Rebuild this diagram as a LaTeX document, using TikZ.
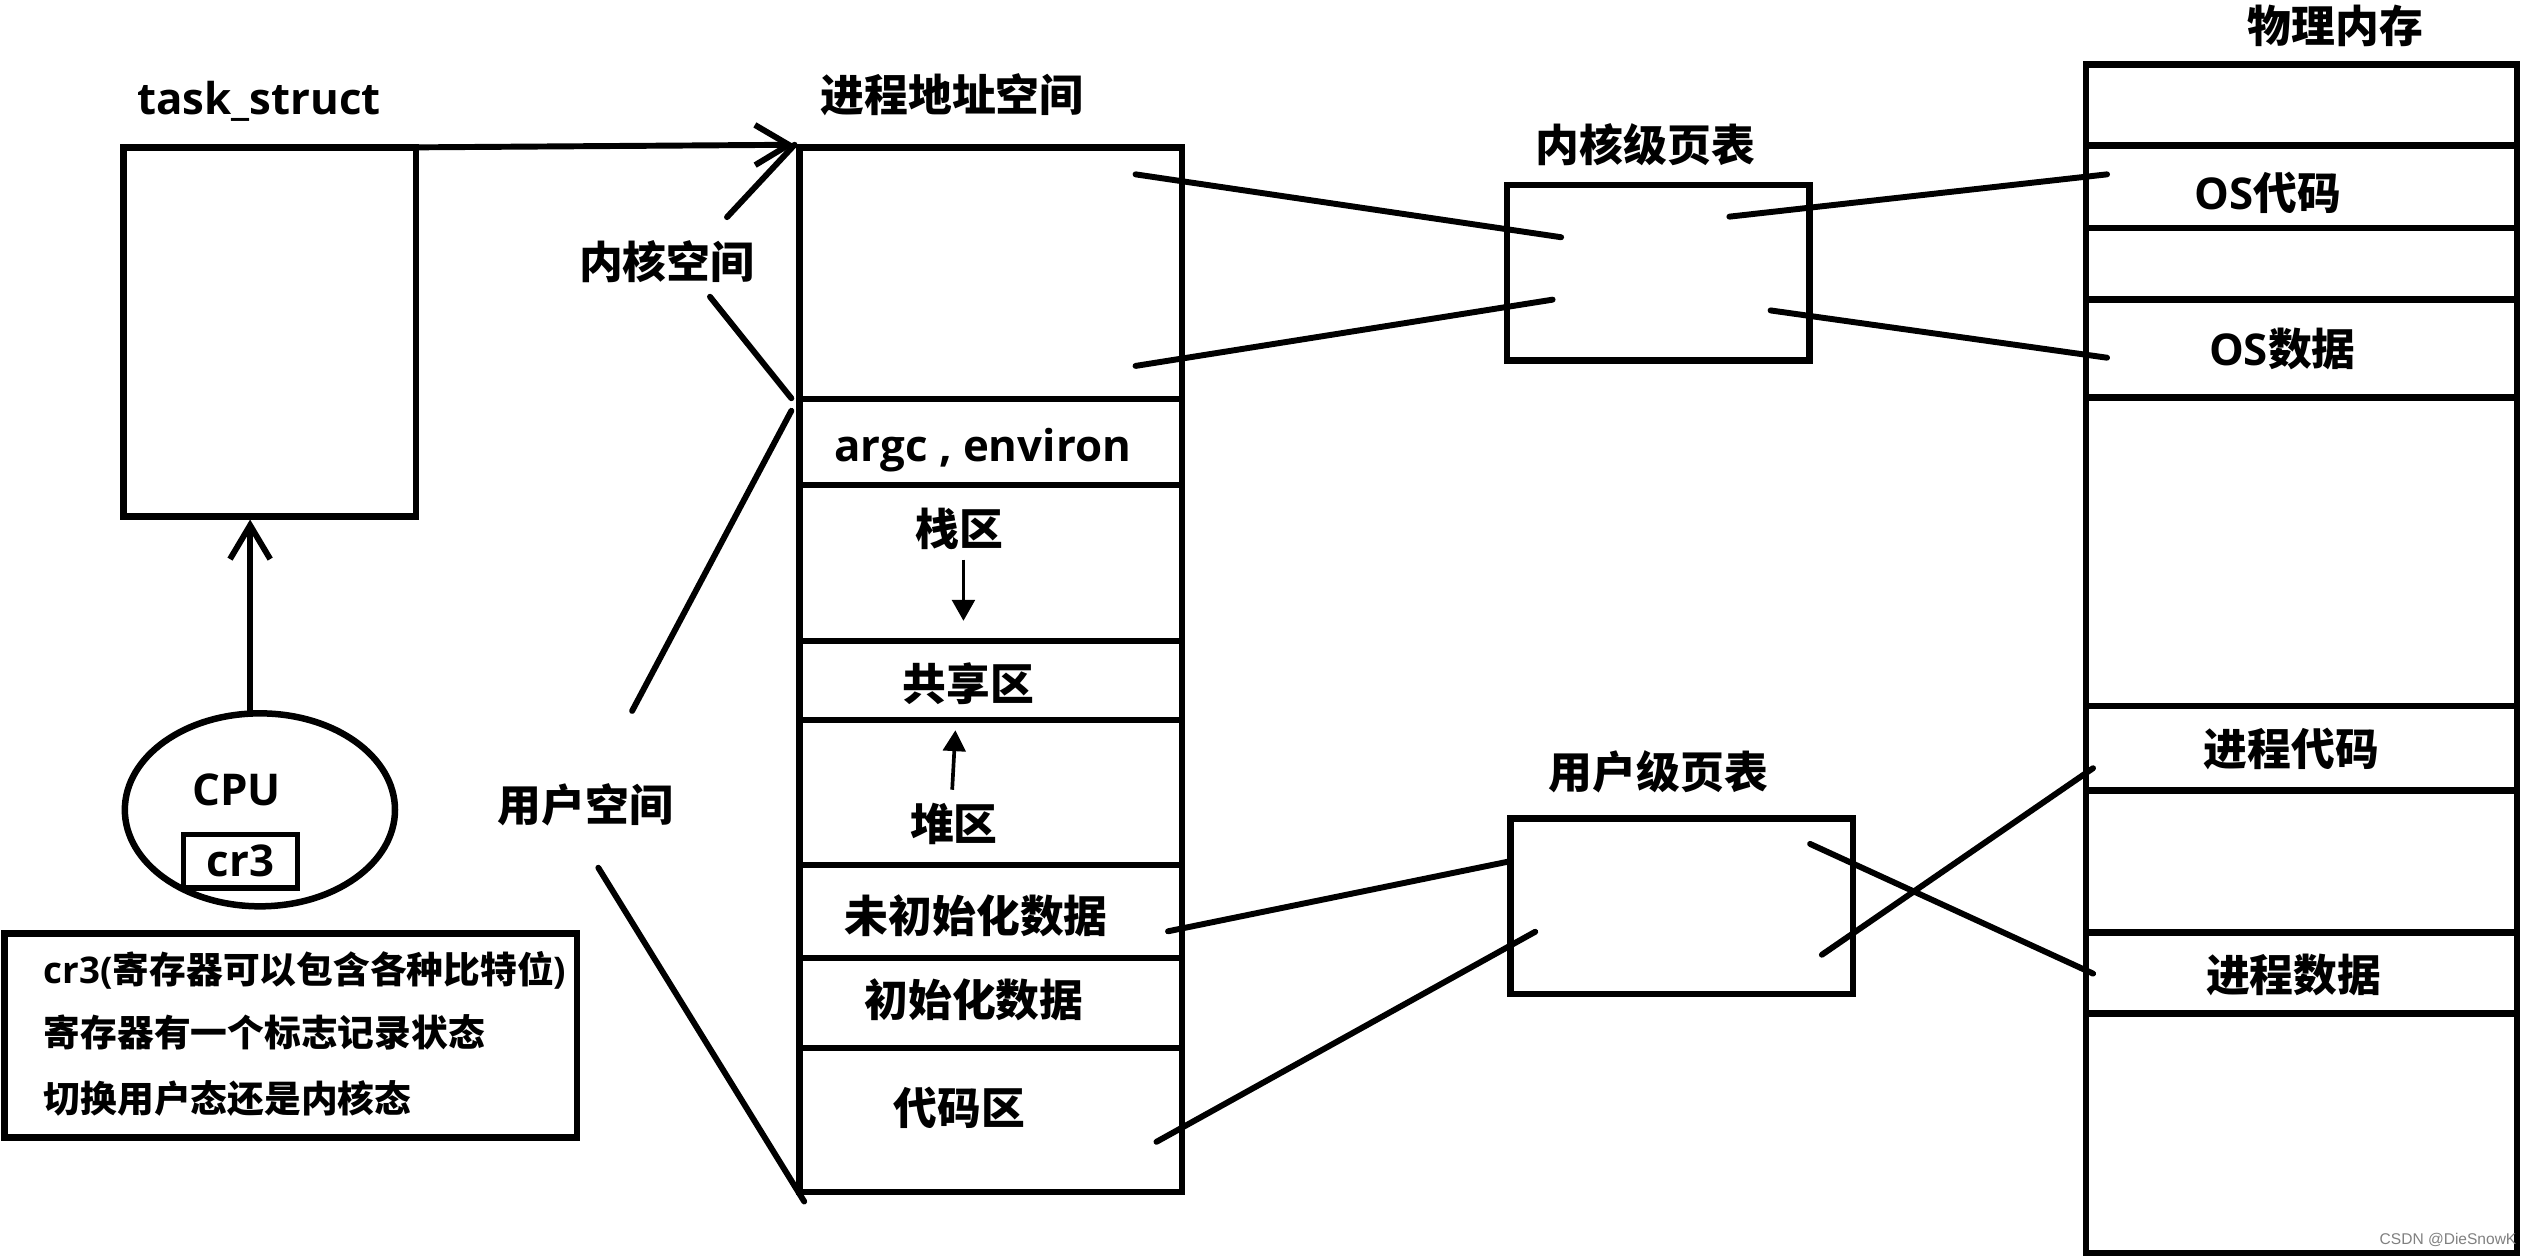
\documentclass[tikz,border=0pt]{standalone}
\usepackage{fontspec}
\setmainfont{Noto Sans CJK SC}
\newfontfamily\lat{Open Sans}
\newfontfamily\wmfont{Liberation Sans}
\usetikzlibrary{arrows.meta,shapes.geometric}
\begin{document}
\begin{tikzpicture}[x=0.02cm, y=-0.02cm,
  box/.style={draw, line width=2.3pt, inner sep=0pt, outer sep=0pt},
  link/.style={line width=2.1pt, line cap=round},
  lbl/.style={font=\bfseries\fontsize{15.5}{18}\selectfont, inner sep=0pt},
  small/.style={font=\bfseries\fontsize{13}{16}\selectfont, inner sep=0pt, anchor=west},
  barb/.style={-{Straight Barb[length=0.42cm, width=0.5cm]}},
  tri/.style={line width=1.3pt, -{Triangle[length=0.26cm, width=0.28cm]}},
  pas/.style={box, minimum width=4.76cm},
  mem/.style={box, minimum width=5.36cm}
]
\useasboundingbox (0,0) rectangle (1568,781);

% task_struct
\node[lbl] (tslbl) at (161,63) {\lat\bfseries task\_struct};
\node[box, minimum width=3.64cm, minimum height=4.588cm] (ts) at (167.8,206.3) {};

% CPU
\node[box, ellipse, minimum width=3.36cm, minimum height=2.4cm] (cpu) at (161.6,503.5) {};
\node[lbl] (cpulbl) at (147,491) {\lat\bfseries CPU};
\node[box, lbl, line width=1.9pt, minimum width=1.42cm, minimum height=0.66cm] (cr3) at (149.5,535.5) {\lat\bfseries cr3};
\coordinate (cpuTop) at (155.5,444);
\coordinate (tsArr) at (155.5,323);
\draw[link, barb, line cap=butt] (cpuTop) -- (tsArr);

% legend
\node[box, minimum width=7.124cm, minimum height=2.538cm] (legend) at (180.8,643.85) {};
\node[small] (lg1) at (27,603) {{\lat\bfseries cr3(}寄存器可以包含各种比特位{\lat\bfseries )}};
\node[small] (lg2) at (27,642) {寄存器有一个标志记录状态};
\node[small] (lg3) at (27,683) {切换用户态还是内核态};

% process address space
\node[lbl] (pastitle) at (592,59) {进程地址空间};
\node[pas, minimum height=3.128cm] (pk) at (616,169.8) {};
\node[pas, minimum height=1.07cm] (pargc) at (616,274.75) {};
\node[pas, minimum height=1.94cm] (pstack) at (616,350) {};
\node[pas, minimum height=0.984cm] (pshare) at (616,423.1) {};
\node[pas, minimum height=1.802cm] (pheap) at (616,492.75) {};
\node[pas, minimum height=1.156cm] (pbss) at (616,566.7) {};
\node[pas, minimum height=1.118cm] (pdata) at (616,623.55) {};
\node[pas, minimum height=1.79cm] (pcode) at (616,696.25) {};
\node[lbl] (largc) at (611,280) {\lat\bfseries argc , environ};
\node[lbl] (lstack) at (596.5,329) {栈区};
\node[lbl] (lshare) at (602,425) {共享区};
\node[lbl] (lheap) at (593,512) {堆区};
\node[lbl] (lbss) at (607,569.5) {未初始化数据};
\node[lbl] (ldata) at (605.5,621.5) {初始化数据};
\node[lbl] (lcode) at (596.6,689) {代码区};
\coordinate (sa1) at (599,348); \coordinate (sa2) at (599,386);
\draw[tri] (sa1) -- (sa2);
\coordinate (ha1) at (592,491); \coordinate (ha2) at (594,454);
\draw[tri] (ha1) -- (ha2);

% task_struct -> address space
\coordinate (pasTip) at (494,90);
\draw[link, barb, line cap=butt] (ts.north east) -- (pasTip);

% kernel / user space labels
\node[lbl] (kslbl) at (414.5,162.5) {内核空间};
\node[lbl] (uslbl) at (364,500.5) {用户空间};
\coordinate (ks1) at (452,135);
\coordinate (ks2) at (441.4,184.5); \coordinate (ksB) at (492,247.6);
\coordinate (us1) at (393,442); \coordinate (usT) at (492,255.4);
\coordinate (us2) at (372,539.5); \coordinate (usB) at (500,747);
\draw[link] (ks1) -- (pasTip);
\draw[link] (ks2) -- (ksB);
\draw[link] (us1) -- (usT);
\draw[link] (us2) -- (usB);

% kernel page table
\node[lbl] (kpttitle) at (1023,90) {内核级页表};
\node[box, minimum width=3.76cm, minimum height=2.18cm] (kpt) at (1031,169.5) {};
% user page table
\node[lbl] (upttitle) at (1031,480) {用户级页表};
\node[box, minimum width=4.26cm, minimum height=2.18cm] (upt) at (1045.5,563.5) {};

% physical memory
\node[lbl] (memtitle) at (1452,16) {物理内存};
\node[mem, minimum height=1.006cm] (m1) at (1431,65.15) {};
\node[mem, minimum height=1.032cm] (m2) at (1431,116.1) {};
\node[mem, minimum height=0.888cm] (m3) at (1431,164.1) {};
\node[mem, minimum height=1.216cm] (m4) at (1431,216.7) {};
\node[mem, minimum height=3.836cm] (m5) at (1431,343) {};
\node[mem, minimum height=1.05cm] (m6) at (1431,465.15) {};
\node[mem, minimum height=1.768cm] (m7) at (1431,535.6) {};
\node[mem, minimum height=1.004cm] (m8) at (1431,604.9) {};
\node[mem, minimum height=2.98cm] (m9) at (1431,704.5) {};
\node[lbl] (losc) at (1410,120) {{\lat\bfseries OS}代码};
\node[lbl] (losd) at (1419,217) {{\lat\bfseries OS}数据};
\node[lbl] (lprc) at (1424.5,465.4) {进程代码};
\node[lbl] (lprd) at (1426,606) {进程数据};

% mapping lines
\coordinate (k1a) at (706,108.4); \coordinate (k1b) at (970.6,147.5);
\coordinate (k2a) at (706,227.5); \coordinate (k2b) at (965.3,186.3);
\coordinate (k3a) at (1075.2,134.7); \coordinate (k3b) at (1310,108.4);
\coordinate (k4a) at (1100.8,193); \coordinate (k4b) at (1310,222.4);
\draw[link] (k1a) -- (k1b);
\draw[link] (k2a) -- (k2b);
\draw[link] (k3a) -- (k3b);
\draw[link] (k4a) -- (k4b);
\coordinate (u1a) at (726.2,579); \coordinate (u1b) at (938.2,535.6);
\coordinate (u2a) at (719,709.9); \coordinate (u2b) at (954.5,579.3);
\coordinate (u3a) at (1125.4,524.7); \coordinate (u3b) at (1301.3,605.3);
\coordinate (u4a) at (1132.7,593.6); \coordinate (u4b) at (1301.3,477.6);
\draw[link] (u1a) -- (u1b);
\draw[link] (u2a) -- (u2b);
\draw[link] (u3a) -- (u3b);
\draw[link] (u4a) -- (u4b);

% watermark
\node[font=\wmfont\fontsize{5.5}{6}\selectfont, text=gray, inner sep=0pt] (wm) at (1522,771) {CSDN @DieSnowK};
\end{tikzpicture}
\end{document}
